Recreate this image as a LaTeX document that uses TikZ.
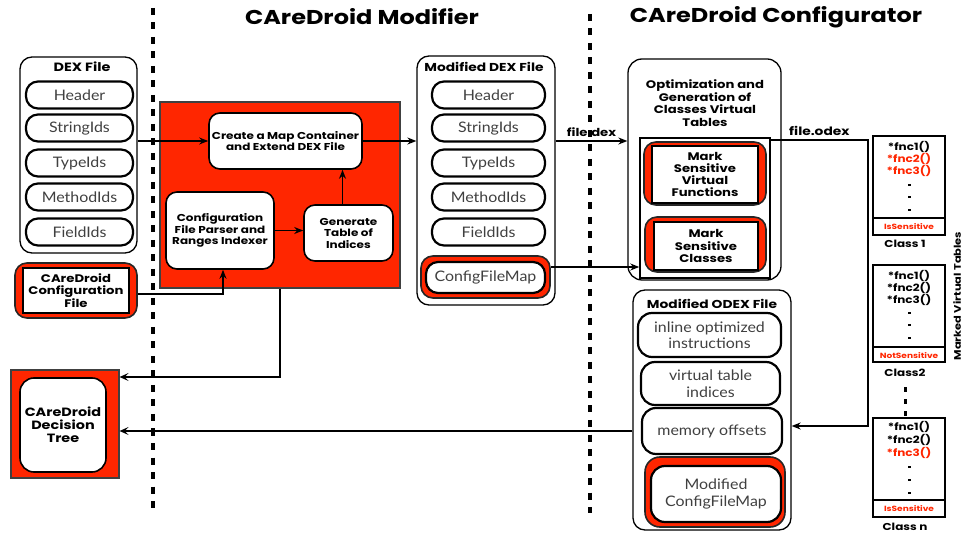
\documentclass[tikz,border=0pt]{standalone}
\usepackage{fontspec}
\setmainfont{Lato}[FakeStretch=1.1]
\newfontfamily\hv{Poppins}[FakeStretch=1.2]
\usetikzlibrary{arrows.meta}
\definecolor{cred}{RGB}{255,38,0}
\definecolor{cgrey}{RGB}{64,64,64}

\begin{document}
\begin{tikzpicture}[x=1pt,y=-1pt,
  base/.style={inner sep=0pt, align=center},
  sz/.style 2 args={minimum width=#1pt, minimum height=#2pt},
  pill/.style={base, draw, line width=2.2pt, rounded corners=12pt, fill=white,
    text=cgrey, font=\fontsize{14.5}{16.5}\selectfont},
  container/.style={base, draw, line width=1.3pt, rounded corners=12pt, fill=white},
  lbl/.style={base, font=\hv\bfseries\fontsize{11.5}{12.5}\selectfont},
  redrnd/.style={base, draw=black!85, line width=1.6pt, fill=cred, rounded corners=12pt},
  redrect/.style={base, draw=black!75, line width=1.2pt, fill=cred},
  whitebox/.style={base, draw, line width=1.6pt, fill=white, rounded corners=11pt,
    font=\hv\bfseries\fontsize{10}{11.5}\selectfont},
  whiterect/.style={base, draw, line width=1.6pt, fill=white,
    font=\hv\bfseries\fontsize{11}{12.5}\selectfont},
  arr/.style={line width=1.8pt, -{Stealth[length=9pt,width=7pt]}},
  thinarr/.style={line width=1.4pt, -{Stealth[length=9pt,width=8pt,inset=4pt]}},
  sepline/.style={line width=4pt, dash pattern=on 7pt off 7.5pt},
  heading/.style={base, font=\hv\bfseries\fontsize{20}{22}\selectfont},
  tbl/.style={base, draw, line width=1.5pt, fill=white},
  fnc/.style={base, font=\hv\bfseries\fontsize{10}{12}\selectfont},
  flag/.style={base, text=cred, font=\hv\bfseries\fontsize{7.5}{9}\selectfont},
  cls/.style={base, font=\hv\bfseries\fontsize{10}{11}\selectfont},
]
\useasboundingbox (0,0) rectangle (964,534);

% section headings
\node[heading] (hmod) at (362,17) {CAreDroid Modifier};
\node[heading] (hcfg) at (776,17) {CAreDroid Configurator};

% ---------------- input DEX file ----------------
\node[container, sz={117}{196}] (dex) at (78.5,155) {};
\node[lbl, font=\hv\bfseries\fontsize{12}{13}\selectfont] (dext) at (82,67) {DEX File};
\node[pill, sz={107}{27}] (dh) at (79.5,95) {Header};
\node[pill, sz={107}{27}] (ds) at (79.5,128) {StringIds};
\node[pill, sz={107}{27}] (dt) at (79.5,163) {TypeIds};
\node[pill, sz={107}{27}] (dm) at (79.5,197) {MethodIds};
\node[pill, sz={107}{27}] (df) at (79.5,232) {FieldIds};

% configuration file
\node[redrnd, sz={122}{55}] (cfgout) at (76,290.5) {};
\node[whiterect, sz={106}{45}] (cfg) at (76,290.5)
  {CAreDroid\\Configuration\\File};

% ---------------- modifier block ----------------
\node[redrect, sz={240}{186}] (modifier) at (280,195) {};
\node[whitebox, sz={153}{56}] (create) at (285.5,141)
  {Create a Map Container\\and Extend DEX File};
\node[whitebox, sz={108}{77}] (parser) at (220,230.5)
  {Configuration\\File Parser and\\Ranges Indexer};
\node[whitebox, sz={89}{56}] (gen) at (348.5,233)
  {Generate\\Table of\\Indices};

% ---------------- modified DEX file ----------------
\node[container, sz={138}{249}] (moddex) at (486,180.5) {};
\node[lbl] (moddext) at (484,67) {Modified DEX File};
\node[pill, sz={113}{27}] (mh) at (488.5,95) {Header};
\node[pill, sz={113}{27}] (ms) at (488.5,128) {StringIds};
\node[pill, sz={113}{27}] (mt) at (488.5,163) {TypeIds};
\node[pill, sz={113}{27}] (mm) at (488.5,197) {MethodIds};
\node[pill, sz={113}{27}] (mf) at (488.5,232) {FieldIds};
\node[redrnd, sz={129}{42}] (mapout) at (485.5,277) {};
\node[pill, sz={119}{31}] (map) at (485.5,277.5) {ConfigFileMap};

% ---------------- decision tree ----------------
\node[redrect, sz={108}{108}] (decout) at (65,424) {};
\node[whitebox, sz={86}{94}, rounded corners=14pt, font=\hv\bfseries\fontsize{12}{13}\selectfont]
  (dec) at (63,425) {CAreDroid\\Decision\\Tree};

% ---------------- optimisation block ----------------
\node[container, sz={153}{221}, rounded corners=14pt] (opt) at (704.5,169.5) {};
\node[lbl, font=\hv\bfseries\fontsize{11}{12.5}\selectfont] (optt) at (705,103)
  {Optimization and\\Generation of\\Classes Virtual\\Tables};
\node[tbl, sz={130}{140}] (optin) at (705,208) {};
\node[redrnd, sz={122}{63}] (msvfout) at (705,173.5) {};
\node[whiterect, sz={106}{57}, font=\hv\bfseries\fontsize{11}{12}\selectfont] (msvf) at (705,174.5)
  {Mark\\Sensitive\\Virtual\\Functions};
\node[redrnd, sz={121}{55}] (mscout) at (705.5,244.5) {};
\node[whiterect, sz={104}{48}] (msc) at (706,246)
  {Mark\\Sensitive\\Classes};

% ---------------- modified ODEX file ----------------
\node[container, sz={158}{240}] (odex) at (712,410) {};
\node[lbl] (odext) at (712,304) {Modified ODEX File};
\node[pill, sz={143}{44}, rounded corners=14pt] (inl) at (709.5,335)
  {inline optimized\\instructions};
\node[pill, sz={139}{43}, rounded corners=14pt] (vti) at (710.5,383.5)
  {virtual table\\indices};
\node[pill, sz={140}{46}, rounded corners=14pt] (mem) at (712,431)
  {memory offsets};
\node[redrnd, sz={140}{70}, rounded corners=15pt] (mcfgout) at (715,492) {};
\node[pill, sz={130}{56}, rounded corners=14pt] (mcfg) at (716,494)
  {Modified\\ConfigFileMap};

% ---------------- marked virtual tables ----------------
% Class 1
\node[tbl, sz={72}{99}] (c1) at (909,185.5) {};
\draw[line width=1.5pt] (873,218) -- (945,218);
\node[fnc] (c1a) at (909,147) {*fnc1()};
\node[fnc, text=cred] (c1b) at (909,159) {*fnc2()};
\node[fnc, text=cred] (c1c) at (909,171) {*fnc3()};
\foreach \yy in {185,197,210} \fill (907.5,\yy-1.3) rectangle (910.5,\yy+1.3);
\node[flag] (c1f) at (909,227) {IsSensitive};
\node[cls] (c1l) at (905,244) {Class 1};
% Class 2
\node[tbl, sz={72}{97}] (c2) at (909,313.5) {};
\draw[line width=1.5pt] (873,347) -- (945,347);
\node[fnc] (c2a) at (909,276) {*fnc1()};
\node[fnc] (c2b) at (909,288) {*fnc2()};
\node[fnc] (c2c) at (909,300) {*fnc3()};
\foreach \yy in {313,325,338} \fill (907.5,\yy-1.3) rectangle (910.5,\yy+1.3);
\node[flag] (c2f) at (909,356) {NotSensitive};
\node[cls] (c2l) at (905,373) {Class2};
% vertical ellipsis
\foreach \yy in {390,402,414} \fill (903.5,\yy-2.5) rectangle (906.5,\yy+2.5);
% Class n
\node[tbl, sz={72}{99}] (cn) at (909,467.5) {};
\draw[line width=1.5pt] (873,500) -- (945,500);
\node[fnc] (cna) at (909,427) {*fnc1()};
\node[fnc] (cnb) at (909,440) {*fnc2()};
\node[fnc, text=cred] (cnc) at (909,453) {*fnc3()};
\foreach \yy in {467,480,493} \fill (907.5,\yy-1.3) rectangle (910.5,\yy+1.3);
\node[flag] (cnf) at (909,509) {IsSensitive};
\node[cls] (cnl) at (905,527) {Class n};
\node[base, rotate=90, font=\hv\bfseries\fontsize{9.5}{11}\selectfont] (mvt) at (957,296)
  {Marked Virtual Tables};

% ---------------- connectors ----------------
\draw[arr] (dex.east |- create.west) -- (create.west);
\draw[arr] (parser.east) -- (parser.east -| gen.west);
\draw[arr] ([xshift=-6pt]gen.north) -- ([xshift=-6pt]gen.north |- create.south);
\draw[arr] (create.east) -- (create.east -| moddex.west);
\draw[arr] ([yshift=-3.5pt]cfgout.east) -| ([xshift=3pt]parser.south);
\draw[thinarr] (modifier.south) |- ([yshift=47pt]decout.east);
\draw[thinarr] (odex.west |- mem.west) -- (decout.east |- mem.west);
\draw[arr] (moddex.east |- create.east) -- node[above=4pt, lbl, font=\hv\bfseries\fontsize{11}{12}\selectfont] (fdex) {file.dex}
  (opt.west |- create.east);
\path ([yshift=10pt]mapout.east) coordinate (mapsrc);
\draw[arr] (mapsrc) -- (mapsrc -| optin.west);
\coordinate (odexbend) at (868,140);
\draw[arr] (optin.east |- odexbend) -- node[above=4pt, lbl] (fodex) {file.odex}
  (odexbend) |- ([yshift=-16pt]odex.east);

% section separators
\draw[sepline] (153,8) -- (153,512);
\draw[sepline] (590,14) -- (590,513);
\end{tikzpicture}
\end{document}
